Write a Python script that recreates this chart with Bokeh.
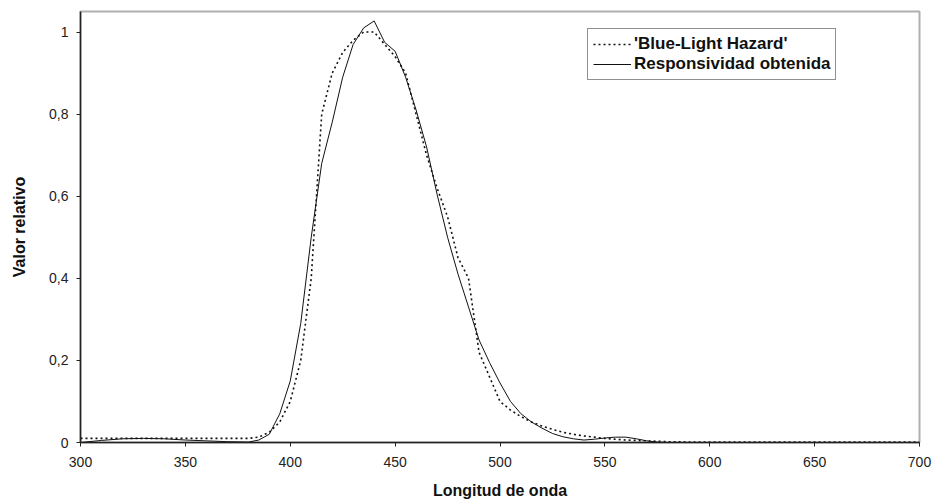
from bokeh.plotting import figure
from bokeh.models import Range1d, FixedTicker, Legend, LegendItem
from bokeh.embed import file_html
from bokeh.resources import INLINE

# 'Blue-Light Hazard' weighting (dotted)
wl_blh = [300, 380, 385, 390, 395, 400, 405, 410, 415, 420, 425, 430, 435, 440, 445,
          450, 455, 460, 465, 470, 475, 480, 485, 490, 495, 500, 505, 510, 515, 520,
          525, 530, 535, 540, 545, 550, 555, 560, 565, 570, 575, 580, 585, 590, 595,
          600, 700]
val_blh = [0.010, 0.010, 0.013, 0.025, 0.05, 0.10, 0.20, 0.40, 0.80, 0.90, 0.95, 0.98, 1.0, 1.0, 0.97,
           0.94, 0.90, 0.80, 0.70, 0.62, 0.55, 0.45, 0.40, 0.22, 0.16, 0.10, 0.079, 0.063, 0.050, 0.040,
           0.032, 0.025, 0.020, 0.016, 0.013, 0.010, 0.008, 0.006, 0.005, 0.004, 0.003, 0.002, 0.002, 0.001, 0.001,
           0.001, 0.001]

# Responsividad obtenida (solid)
wl_resp = [300, 310, 320, 330, 340, 350, 360, 370, 380, 385, 390, 395, 400, 405, 410,
           415, 420, 425, 430, 435, 440, 445, 450, 455, 460, 465, 470, 475, 480, 485,
           490, 495, 500, 505, 510, 515, 520, 525, 530, 535, 540, 545, 550, 555, 560,
           565, 570, 575, 580, 700]
val_resp = [0.000, 0.005, 0.009, 0.010, 0.009, 0.006, 0.004, 0.002, 0.001, 0.006, 0.020, 0.07, 0.15, 0.29, 0.50,
            0.68, 0.78, 0.89, 0.97, 1.01, 1.027, 0.975, 0.953, 0.89, 0.81, 0.72, 0.605, 0.50, 0.41, 0.33,
            0.25, 0.195, 0.145, 0.10, 0.07, 0.05, 0.035, 0.022, 0.014, 0.009, 0.006, 0.008, 0.011, 0.013, 0.013,
            0.009, 0.004, 0.001, 0.0, 0.0]

x_ticks = [300, 350, 400, 450, 500, 550, 600, 650, 700]
y_ticks = [0, 0.2, 0.4, 0.6, 0.8, 1.0]
y_tick_labels = ["0", "0,2", "0,4", "0,6", "0,8", "1"]
series_names = ["'Blue-Light Hazard'", "Responsividad obtenida"]

FONT = "Liberation Sans"

p = figure(frame_width=839, frame_height=431, output_backend="svg", toolbar_location=None,
           x_range=Range1d(300, 700), y_range=Range1d(0, 1.05),
           min_border_left=80, min_border_top=11, min_border_right=15, min_border_bottom=58)
p.background_fill_color = "white"
p.border_fill_color = "white"
p.outline_line_color = "#b0b0b0"
p.outline_line_width = 2
p.xgrid.visible = False
p.ygrid.visible = False

for ax in (p.xaxis[0], p.yaxis[0]):
    ax.axis_line_color = "#222222"
    ax.axis_line_width = 1.5
    ax.major_tick_line_color = "#222222"
    ax.major_tick_out = 4
    ax.major_tick_in = 0
    ax.minor_tick_out = 0
    ax.minor_tick_in = 0
    ax.major_label_text_font = FONT
    ax.major_label_text_font_size = "14px"
    ax.major_label_text_color = "#222222"
    ax.axis_label_text_font = FONT
    ax.axis_label_text_font_size = "16px"
    ax.axis_label_text_font_style = "bold"
    ax.axis_label_text_color = "#111111"

p.xaxis.ticker = FixedTicker(ticks=x_ticks)
p.yaxis.ticker = FixedTicker(ticks=y_ticks)
p.yaxis.major_label_overrides = {t: l for t, l in zip(y_ticks, y_tick_labels)}
p.xaxis.axis_label = "Longitud de onda"
p.yaxis.axis_label = "Valor relativo"
p.xaxis.major_label_standoff = 10
p.xaxis.axis_label_standoff = 12
p.yaxis.major_label_standoff = 8
p.yaxis.axis_label_standoff = 18

r_blh = p.line(wl_blh, val_blh, line_color="#111111", line_width=1.6, line_dash="2 3")
r_resp = p.line(wl_resp, val_resp, line_color="#111111", line_width=1)

legend = Legend(items=[LegendItem(label=series_names[0], renderers=[r_blh]),
                       LegendItem(label=series_names[1], renderers=[r_resp])],
                location=(507, 362))
legend.label_text_font = FONT
legend.label_text_font_size = "17px"
legend.label_text_font_style = "bold"
legend.label_text_color = "#111111"
legend.glyph_width = 38
legend.glyph_height = 18
legend.label_height = 18
legend.label_standoff = 3
legend.spacing = 0
legend.padding = 5
legend.margin = 0
legend.border_line_color = "#222222"
legend.border_line_width = 1
legend.background_fill_color = "white"
legend.background_fill_alpha = 1
p.add_layout(legend, "center")

open("out.html", "w").write(file_html(p, INLINE))
